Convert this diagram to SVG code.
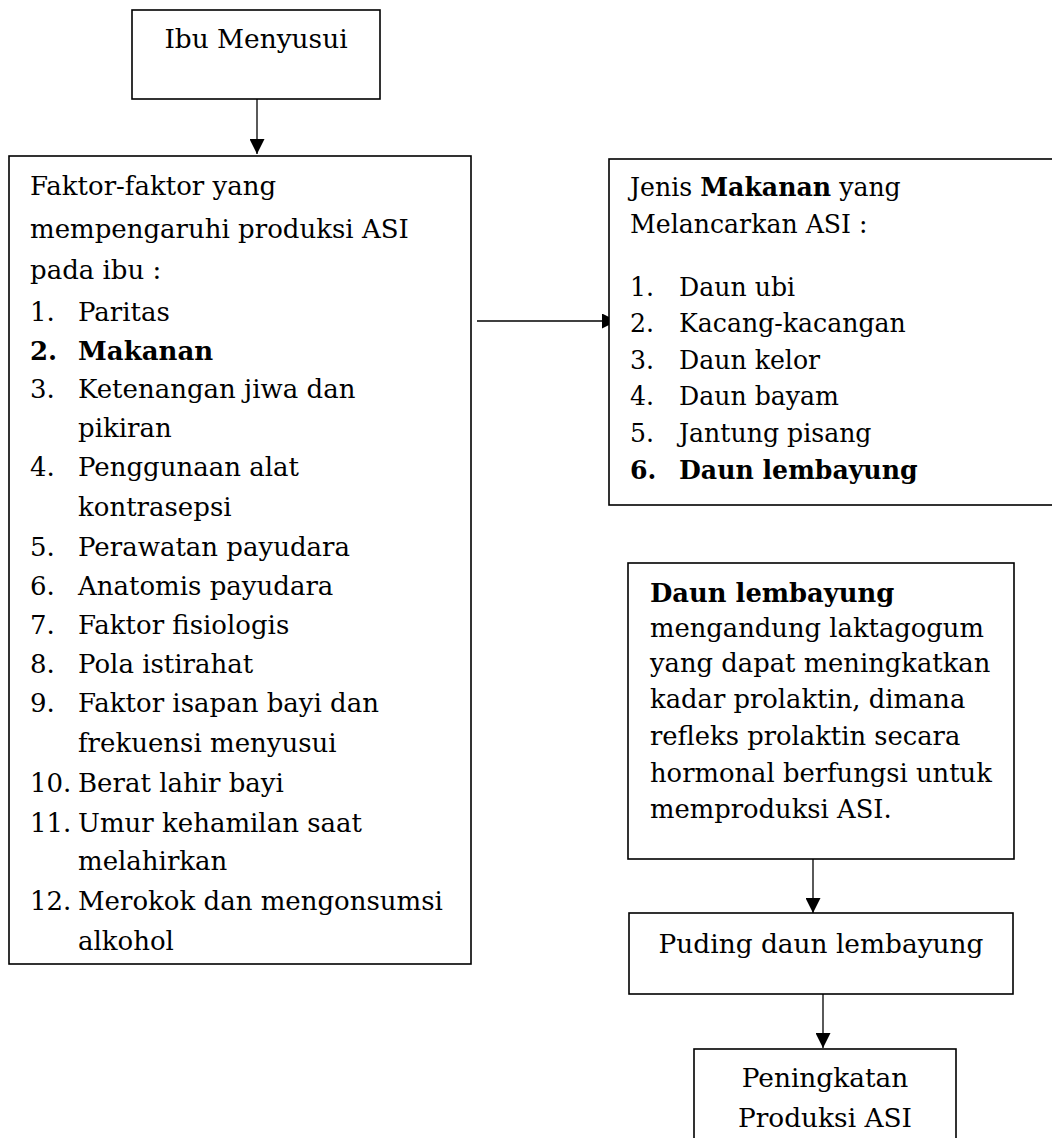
<svg xmlns="http://www.w3.org/2000/svg" width="1052" height="1138" viewBox="0 0 1052 1138">
<style>
.box{fill:#fff;stroke:#000;stroke-width:1.6}
.t{font-family:"DejaVu Serif","Liberation Serif",serif;fill:#000}
.lg{font-size:26px}
.md{font-size:25.2px}
.sm{font-size:25.8px}
.ct{font-size:26.4px;text-anchor:middle}
.b{font-weight:bold}
.conn{stroke:#000;stroke-width:1.3;fill:none}
</style>
<defs>
<marker id="ah" viewBox="0 0 15 15" refX="15" refY="7.5" markerWidth="15" markerHeight="15" markerUnits="userSpaceOnUse" orient="auto">
<path d="M0,0 L15,7.5 L0,15 z" fill="#000"/>
</marker>
</defs>

<g id="connectors">
<line class="conn" x1="257" y1="99" x2="257" y2="154" marker-end="url(#ah)"/>
<line class="conn" x1="477" y1="321" x2="617" y2="321" marker-end="url(#ah)"/>
<line class="conn" x1="813" y1="859" x2="813" y2="913" marker-end="url(#ah)"/>
<line class="conn" x1="823" y1="994" x2="823" y2="1048" marker-end="url(#ah)"/>
</g>

<g id="ibu-menyusui">
<rect class="box" x="132" y="10" width="248" height="89"/>
<text class="t ct" x="256" y="48">Ibu Menyusui</text>
</g>

<g id="faktor">
<rect class="box" x="9" y="156" width="462" height="808"/>
<g class="t lg">
<text x="30" y="195">Faktor-faktor yang</text>
<text x="30" y="238">mempengaruhi produksi ASI</text>
<text x="30" y="279">pada ibu :</text>
<text x="30" y="321">1.</text><text x="78" y="321">Paritas</text>
<text x="30" y="360" class="b">2.</text><text x="78" y="360" class="b">Makanan</text>
<text x="30" y="398">3.</text><text x="78" y="398">Ketenangan jiwa dan</text>
<text x="78" y="437">pikiran</text>
<text x="30" y="476">4.</text><text x="78" y="476">Penggunaan alat</text>
<text x="78" y="516">kontrasepsi</text>
<text x="30" y="556">5.</text><text x="78" y="556">Perawatan payudara</text>
<text x="30" y="595">6.</text><text x="78" y="595">Anatomis payudara</text>
<text x="30" y="634">7.</text><text x="78" y="634">Faktor fisiologis</text>
<text x="30" y="673">8.</text><text x="78" y="673">Pola istirahat</text>
<text x="30" y="712">9.</text><text x="78" y="712">Faktor isapan bayi dan</text>
<text x="78" y="752">frekuensi menyusui</text>
<text x="30" y="792">10.</text><text x="78" y="792">Berat lahir bayi</text>
<text x="30" y="832">11.</text><text x="78" y="832">Umur kehamilan saat</text>
<text x="78" y="870">melahirkan</text>
<text x="30" y="910">12.</text><text x="78" y="910">Merokok dan mengonsumsi</text>
<text x="78" y="950">alkohol</text>
</g>
</g>

<g id="jenis-makanan">
<rect class="box" x="609" y="159" width="460" height="346"/>
<g class="t md">
<text x="630" y="196">Jenis <tspan class="b">Makanan</tspan> yang</text>
<text x="630" y="233">Melancarkan ASI :</text>
<text x="630" y="296">1.</text><text x="679" y="296">Daun ubi</text>
<text x="630" y="332">2.</text><text x="679" y="332">Kacang-kacangan</text>
<text x="630" y="369">3.</text><text x="679" y="369">Daun kelor</text>
<text x="630" y="405">4.</text><text x="679" y="405">Daun bayam</text>
<text x="630" y="442">5.</text><text x="679" y="442">Jantung pisang</text>
<text x="630" y="479" class="b">6.</text><text x="679" y="479" class="b">Daun lembayung</text>
</g>
</g>

<g id="daun-lembayung">
<rect class="box" x="628" y="563" width="386" height="296"/>
<g class="t sm">
<text x="650" y="602" class="b">Daun lembayung</text>
<text x="650" y="637">mengandung laktagogum</text>
<text x="650" y="672">yang dapat meningkatkan</text>
<text x="650" y="708">kadar prolaktin, dimana</text>
<text x="650" y="745">refleks prolaktin secara</text>
<text x="650" y="782">hormonal berfungsi untuk</text>
<text x="650" y="818">memproduksi ASI.</text>
</g>
</g>

<g id="puding">
<rect class="box" x="629" y="913" width="384" height="81"/>
<text class="t ct" x="821" y="953">Puding daun lembayung</text>
</g>

<g id="peningkatan">
<rect class="box" x="694" y="1049" width="262" height="100"/>
<text class="t ct" x="825" y="1087">Peningkatan</text>
<text class="t ct" x="825" y="1127">Produksi ASI</text>
</g>
</svg>
